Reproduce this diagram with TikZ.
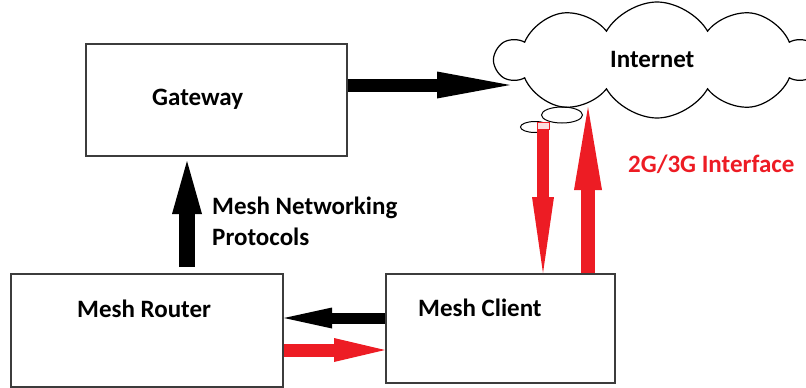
\documentclass[tikz,border=0pt]{standalone}
\usepackage{fontspec}
\setmainfont{Carlito}
\usetikzlibrary{arrows.meta,shapes.symbols,shapes.geometric}
\definecolor{paintred}{HTML}{ED1C24}
\definecolor{boxgray}{HTML}{3C3C3C}
\begin{document}
\begin{tikzpicture}[x=1pt, y=-1pt,
    box/.style = {draw=boxgray, line width=2pt, inner sep=0pt},
    txt/.style = {font=\fontsize{25}{29}\selectfont\bfseries, inner sep=0pt},
    puff/.style = {ellipse, draw, line width=1pt, inner sep=0pt},
    fat/.style args = {#1/#2/#3}{line width=#1, -{Triangle[length=#2, width=#3, line width=0pt]}}]
    \useasboundingbox (0,0) rectangle (806,388);
    % boxes
    \node[box, minimum width=261pt, minimum height=112pt] (gw) at (216.5,100) {};
    \node[box, minimum width=272pt, minimum height=113pt] (rt) at (147,330.5) {};
    \node[box, minimum width=229pt, minimum height=109pt] (cl) at (500.5,328.5) {};
    \node[txt, anchor=base west] (gwlbl) at (152,105) {Gateway};
    \node[txt, anchor=base west] (rtlbl) at (77,317) {Mesh Router};
    \node[txt, anchor=base west] (cllbl) at (418,316) {Mesh Client};
    \node[txt, anchor=base west] (proto1) at (212,214) {Mesh Networking};
    \node[txt, anchor=base west] (proto2) at (212,245) {Protocols};
    % cloud
    \node[cloud, draw, line width=1.2pt, cloud puffs=10, cloud puff arc=120, aspect=3,
          minimum width=322pt, minimum height=116pt, inner sep=0pt] (net) at (657,60) {};
    \node[txt, anchor=base west] (netlbl) at (610,67) {Internet};
    \node[puff, minimum width=41pt, minimum height=16pt] (puffa) at (562,115) {};
    \node[puff, minimum width=29pt, minimum height=11pt] (puffb) at (535,127) {};
    \node[txt, anchor=base west, text=paintred] (iface) at (628,172) {2G/3G Interface};
    % arrows
    \coordinate (netin) at (510,85);
    \coordinate (dntop) at (543,122);
    \coordinate (uptip) at (588,107);
    \draw[fat=13pt/73pt/27pt] (gw.east |- netin) -- (netin);
    \draw[fat=16pt/53pt/30pt] ([xshift=40pt,yshift=6pt]rt.north) -- ([xshift=-29.5pt,yshift=-4pt]gw.south);
    \draw[fat=11pt/48pt/21pt] ([yshift=10.5pt]cl.west) -- ([yshift=12.5pt]rt.east);
    \draw[fat=13pt/51pt/24pt, paintred] ([yshift=-19.5pt]rt.east) -- ([yshift=-21.5pt]cl.west);
    \draw[fat=12pt/76pt/22pt, paintred] (dntop) -- ([xshift=42.5pt]cl.north);
    \draw[fat=14pt/83pt/28pt, paintred] ([xshift=87.5pt]cl.north) -- (uptip);
    \draw[paintred, fill=paintred!15, line width=1pt] (537,122) rectangle (549,129);
\end{tikzpicture}
\end{document}
